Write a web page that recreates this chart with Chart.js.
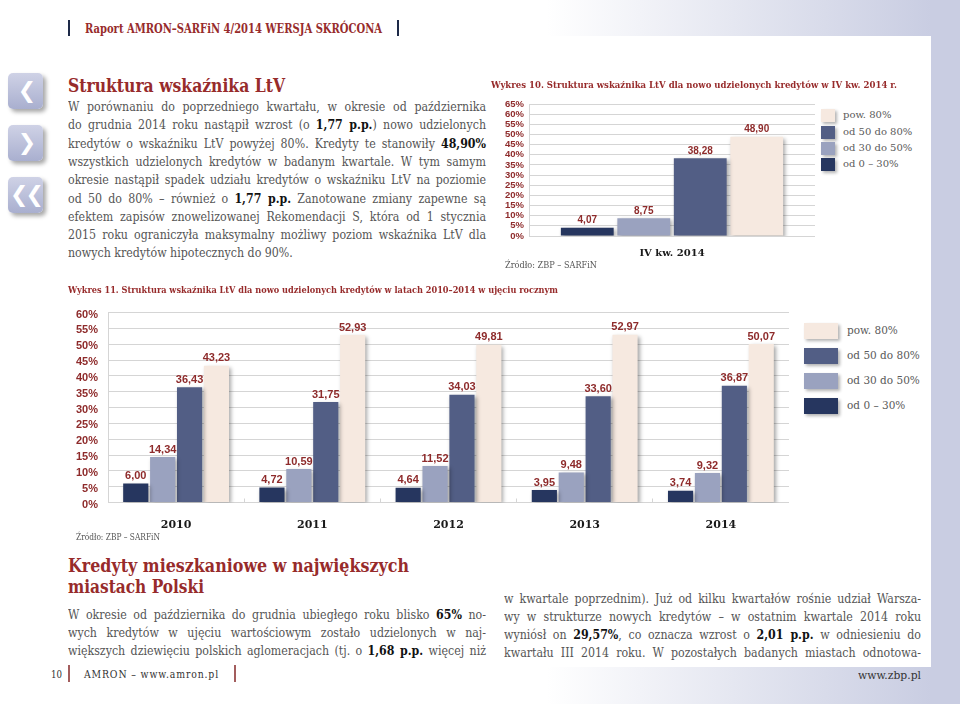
<!DOCTYPE html>
<html lang="pl">
<head>
<meta charset="utf-8">
<title>Struktura wskaźnika LtV</title>
<script src="https://cdn.jsdelivr.net/npm/chart.js@4.4.1/dist/chart.umd.min.js"></script>
<style>
  html, body { margin: 0; padding: 0; }
  body {
    width: 960px; height: 704px; position: relative; overflow: hidden;
    background: linear-gradient(to right, #fff 0%, #fff 57%, #d8dbea 86%, #c9cde2 97%, #c9cde2 100%);
    font-family: "DejaVu Serif", serif; color: #555;
  }
  .sheet { position: absolute; left: 0; top: 36px; width: 931px; height: 631px; background: #fff; }
  .abs { position: absolute; white-space: nowrap; }
  .abs b { color: #111; }
  .red { color: #972b2b; font-weight: bold; }
  .rule { position: absolute; width: 2px; }
  .icon {
    position: absolute; left: 8px; width: 35px; height: 36px; border-radius: 5px;
    background: linear-gradient(#cfd2e6, #a9afcf); box-shadow: 3px 3px 4px rgba(0,0,0,0.35);
    color: #fff; font: bold 22px "DejaVu Sans", sans-serif; text-align: center; line-height: 36px;
    letter-spacing: -3px;
  }
  canvas { position: absolute; }
  .key { position: absolute; box-shadow: 2px 2px 3px rgba(0,0,0,0.3); }
</style>
</head>
<body>
<div class="sheet"></div>

<div class="rule" style="left:68px; top:20px; height:16px; background:#1e2a48"></div>
<div class="rule" style="left:397px; top:20px; height:16px; background:#1e2a48"></div>
<div class="rule" style="left:68px; top:665px; height:17px; background:#a35d5d"></div>
<div class="rule" style="left:234px; top:665px; height:17px; background:#a35d5d"></div>

<div class="icon" style="top:73px">❮</div>
<div class="icon" style="top:125px">❯</div>
<div class="icon" style="top:177px">❮❮</div>

<canvas id="quarterChart" width="325" height="182" style="left:490px; top:80px"></canvas>
<canvas id="yearsChart" width="729" height="240" style="left:60px; top:296px"></canvas>

<script>
// ---- data ----
const seriesNames = ['od 0 – 30%', 'od 30 do 50%', 'od 50 do 80%', 'pow. 80%'];
const seriesColors = ['#26365f', '#9aa2bf', '#525e85', '#f6e9e0'];

const quarterLabels = ['IV kw. 2014'];
const quarterShares = [4.07, 8.75, 38.28, 48.90];

const years = ['2010', '2011', '2012', '2013', '2014'];
const ltv0to30 = [6.00, 4.72, 4.64, 3.95, 3.74];
const ltv30to50 = [14.34, 10.59, 11.52, 9.48, 9.32];
const ltv50to80 = [36.43, 31.75, 34.03, 33.60, 36.87];
const ltvOver80 = [43.23, 52.93, 49.81, 52.97, 50.07];

const ticksQuarter = ['0%', '5%', '10%', '15%', '20%', '25%', '30%', '35%', '40%', '45%', '50%', '55%', '60%', '65%'];
const ticksYears = ['0%', '5%', '10%', '15%', '20%', '25%', '30%', '35%', '40%', '45%', '50%', '55%', '60%'];

const RED = '#8e2b2b';
const GRID = '#d5d5d5';

// ---- page text ----
function addText(html, x, cy, o) {
    const el = document.createElement('div');
    const lh = o.lh || o.size + 4;
    el.className = 'abs ' + (o.cls || '');
    el.innerHTML = html;
    el.style.left = x + 'px';
    el.style.top = (cy - lh / 2) + 'px';
    el.style.fontSize = o.size + 'px';
    el.style.lineHeight = lh + 'px';
    if (o.color) el.style.color = o.color;
    if (o.spacing) el.style.letterSpacing = o.spacing + 'px';
    document.body.appendChild(el);
    if (o.w) {
        const w = el.getBoundingClientRect().width;
        el.style.transformOrigin = '0 50%';
        el.style.transform = 'scaleX(' + (o.w / w) + ')';
    }
    return el;
}

// justified line: squeeze glyphs a bit, then widen the spaces to fill the column
const SQUEEZE = 0.92;
function addLine(html, x, cy, width, justify) {
    const el = addText(html, x, cy, { size: 12, lh: 16 });
    const w = el.getBoundingClientRect().width;
    const room = width / SQUEEZE;
    const gaps = (el.textContent.match(/ /g) || []).length;
    let scale = SQUEEZE;
    if (w > room) scale = width / w;
    else if (justify && gaps) el.style.wordSpacing = ((room - w) / gaps) + 'px';
    el.style.transformOrigin = '0 50%';
    el.style.transform = 'scaleX(' + scale + ')';
}

addText('Raport AMRON–SARFiN 4/2014 WERSJA SKRÓCONA', 85, 29, { size: 12, cls: 'red', w: 297 });
addText('Struktura wskaźnika LtV', 68, 85, { size: 19, cls: 'red', w: 217 });

const introLines = [
    'W porównaniu do poprzedniego kwartału, w okresie od października',
    'do grudnia 2014 roku nastąpił wzrost (o <b>1,77 p.p.</b>) nowo udzielonych',
    'kredytów o wskaźniku LtV powyżej 80%. Kredyty te stanowiły <b>48,90%</b>',
    'wszystkich udzielonych kredytów w badanym kwartale. W tym samym',
    'okresie nastąpił spadek udziału kredytów o wskaźniku LtV na poziomie',
    'od 50 do 80% – również o <b>1,77 p.p.</b> Zanotowane zmiany zapewne są',
    'efektem zapisów znowelizowanej Rekomendacji S, która od 1 stycznia',
    '2015 roku ograniczyła maksymalny możliwy poziom wskaźnika LtV dla',
    'nowych kredytów hipotecznych do 90%.'
];
introLines.forEach((t, i) => addLine(t, 68, 107 + i * 18.3, 418, i < introLines.length - 1));

addText('Kredyty mieszkaniowe w największych', 68, 565, { size: 19, cls: 'red', w: 341 });
addText('miastach Polski', 68, 586.5, { size: 19, cls: 'red', w: 136 });

const citiesLeft = [
    'W okresie od października do grudnia ubiegłego roku blisko <b>65%</b> no-',
    'wych kredytów w ujęciu wartościowym zostało udzielonych w naj-',
    'większych dziewięciu polskich aglomeracjach (tj. o <b>1,68 p.p.</b> więcej niż'
];
citiesLeft.forEach((t, i) => addLine(t, 68, 615 + i * 18, 418, true));

const citiesRight = [
    'w kwartale poprzednim). Już od kilku kwartałów rośnie udział Warsza-',
    'wy w strukturze nowych kredytów – w ostatnim kwartale 2014 roku',
    'wyniósł on <b>29,57%</b>, co oznacza wzrost o <b>2,01 p.p.</b> w odniesieniu do',
    'kwartału III 2014 roku. W pozostałych badanych miastach odnotowa-'
];
citiesRight.forEach((t, i) => addLine(t, 504, 599 + i * 18, 417, true));

addText('Wykres 10. Struktura wskaźnika LtV dla nowo udzielonych kredytów w IV kw. 2014 r.', 491, 85, { size: 10, cls: 'red', w: 406 });
addText('Wykres 11. Struktura wskaźnika LtV dla nowo udzielonych kredytów w latach 2010–2014 w ujęciu rocznym', 68, 290, { size: 10, cls: 'red', w: 490 });
addText('Źródło: ZBP – SARFiN', 505, 265, { size: 9.5, color: '#555', w: 92 });
addText('Źródło: ZBP – SARFiN', 76, 537, { size: 9.5, color: '#555', w: 84 });

addText('10', 51, 674, { size: 11, color: '#333', w: 11 });
addText('AMRON – www.amron.pl', 84, 674, { size: 11, color: '#333', spacing: 1, w: 135 });
addText('www.zbp.pl', 858, 675, { size: 11, color: '#333', w: 63 });

// legends, top row = last series
function addLegend(boxX, textX, rows, bw, bh, size) {
    rows.forEach((cy, k) => {
        const i = seriesNames.length - 1 - k;
        const box = document.createElement('div');
        box.className = 'key';
        box.style.cssText += 'left:' + boxX + 'px;top:' + (cy - bh / 2) + 'px;width:' + bw + 'px;height:' + bh + 'px;background:' + seriesColors[i];
        document.body.appendChild(box);
        addText(seriesNames[i], textX, cy, { size: size, color: '#5a5a5a' });
    });
}
addLegend(821, 843, [115, 132, 148, 164], 14, 13, 10);
addLegend(804, 847, [330.5, 355.5, 380.5, 405.5], 34, 16, 10.5);

// ---- charts ----
const barShadow = {
    id: 'barShadow',
    beforeDatasetsDraw(chart) {
        const c = chart.ctx;
        c.save();
        c.shadowColor = 'rgba(0,0,0,0.35)';
        c.shadowBlur = 4;
        c.shadowOffsetX = 2;
        c.shadowOffsetY = 2;
    },
    afterDatasetsDraw(chart) {
        chart.ctx.restore();
    }
};

const valueLabels = {
    id: 'valueLabels',
    afterDatasetsDraw(chart, args, opts) {
        const ctx = chart.ctx;
        ctx.save();
        ctx.font = opts.font;
        ctx.fillStyle = RED;
        ctx.textAlign = 'center';
        ctx.textBaseline = 'bottom';
        chart.data.datasets.forEach((ds, i) => {
            chart.getDatasetMeta(i).data.forEach((bar, j) => {
                ctx.fillText(ds.data[j].toFixed(2).replace('.', ','), bar.x, bar.y - opts.gap);
            });
        });
        ctx.restore();
    }
};

function barChart(id, labels, datasets, o) {
    return new Chart(document.getElementById(id), {
        type: 'bar',
        data: { labels: labels, datasets: datasets },
        options: {
            responsive: false,
            animation: false,
            layout: { padding: { top: o.padTop, left: 0, right: 0, bottom: 0 } },
            datasets: { bar: { categoryPercentage: 0.79, barPercentage: 0.935, borderWidth: 0 } },
            plugins: {
                legend: { display: false },
                tooltip: { enabled: false },
                valueLabels: { font: o.valueFont, gap: o.gap }
            },
            scales: {
                x: {
                    grid: o.xGrid,
                    border: { display: false },
                    ticks: {
                        color: '#1a1a1a',
                        padding: o.xPad,
                        font: { family: 'DejaVu Serif', weight: 'bold', size: o.xSize }
                    },
                    afterFit: s => { s.height = o.xHeight; }
                },
                y: {
                    min: 0,
                    max: o.max,
                    grid: { color: GRID, drawTicks: false },
                    border: { display: true, color: GRID },
                    ticks: {
                        stepSize: 5,
                        maxTicksLimit: 20,
                        autoSkip: false,
                        color: RED,
                        padding: o.yPad,
                        labelOffset: o.yOffset,
                        font: { family: 'Liberation Sans', weight: 'bold', size: o.ySize },
                        callback: v => o.tickLabels[v / 5]
                    },
                    afterFit: s => { s.width = o.yWidth; }
                }
            }
        },
        plugins: [barShadow, valueLabels]
    });
}

barChart('quarterChart', quarterLabels,
    quarterShares.map((v, i) => ({ label: seriesNames[i], data: [v], backgroundColor: seriesColors[i] })),
    {
        padTop: 24, max: 65, tickLabels: ticksQuarter,
        yWidth: 39, yPad: 5, yOffset: 0, ySize: 9.5,
        xHeight: 26, xPad: 11, xSize: 10,
        xGrid: { display: false, drawTicks: false },
        valueFont: 'bold 10px "Liberation Sans"', gap: 2
    });

barChart('yearsChart', years,
    [ltv0to30, ltv30to50, ltv50to80, ltvOver80].map((d, i) => ({ label: seriesNames[i], data: d, backgroundColor: seriesColors[i] })),
    {
        padTop: 10.5, max: 60, tickLabels: ticksYears,
        yWidth: 48, yPad: 10, yOffset: 2, ySize: 11,
        xHeight: 33.5, xPad: 20, xSize: 11,
        xGrid: { color: GRID, drawOnChartArea: false, drawTicks: true, tickLength: -4 },
        valueFont: 'bold 11px "Liberation Sans"', gap: 2
    });
</script>
</body>
</html>
